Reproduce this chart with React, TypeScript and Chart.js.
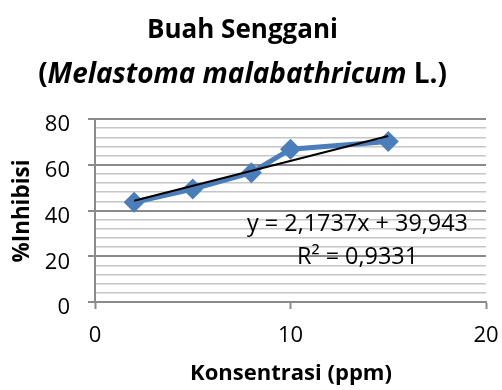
import React, { useEffect, useRef } from "react";
import { Chart, registerables } from "chart.js";

Chart.register(...registerables);

// ---- data ----
const concentrations = [2, 5, 8, 10, 15];
const inhibition = [43.6, 49.4, 56.5, 66.8, 70.2];
const trendSlope = 2.1737;
const trendIntercept = 39.943;
const trendRange = [2, 15];
const xTickValues = [0, 10, 20];
const yMajorStep = 20;
const yMinorStep = 4;
const titleLine1 = "Buah Senggani";
const titleLine2Parts = [
  { text: "(", italic: false },
  { text: "Melastoma malabathricum", italic: true },
  { text: " L.)", italic: false },
];
const yTitle = "%Inhibisi";
const xTitle = "Konsentrasi (ppm)";
const equationText = "y = 2,1737x + 39,943";
const r2Text = "R² = 0,9331";

const FONT = "'Open Sans', sans-serif";
const MAJOR = "#8a8a8a";
const MINOR = "#c6c6c6";

function fitSize(ctx: CanvasRenderingContext2D, parts: { text: string; italic: boolean }[], bold: boolean, target: number) {
  const base = 20;
  let w = 0;
  for (const p of parts) {
    ctx.font = `${p.italic ? "italic " : ""}${bold ? "bold " : ""}${base}px ${FONT}`;
    w += ctx.measureText(p.text).width;
  }
  return (base * target) / w;
}

function drawParts(ctx: CanvasRenderingContext2D, parts: { text: string; italic: boolean }[], bold: boolean, size: number, cx: number, y: number) {
  const widths: number[] = [];
  let total = 0;
  for (const p of parts) {
    ctx.font = `${p.italic ? "italic " : ""}${bold ? "bold " : ""}${size}px ${FONT}`;
    const w = ctx.measureText(p.text).width;
    widths.push(w);
    total += w;
  }
  let x = cx - total / 2;
  ctx.textAlign = "left";
  parts.forEach((p, i) => {
    ctx.font = `${p.italic ? "italic " : ""}${bold ? "bold " : ""}${size}px ${FONT}`;
    ctx.fillText(p.text, x, y);
    x += widths[i];
  });
}

const textPlugin = {
  id: "textPlugin",
  afterDraw(chart: any) {
    const ctx = chart.ctx as CanvasRenderingContext2D;
    ctx.save();
    ctx.fillStyle = "#000";
    ctx.textBaseline = "alphabetic";
    const l1 = [{ text: titleLine1, italic: false }];
    const s1 = fitSize(ctx, l1, true, 191);
    drawParts(ctx, l1, true, s1, 242.5, 38);
    const s2 = fitSize(ctx, titleLine2Parts, true, 409);
    drawParts(ctx, titleLine2Parts, true, s2, 242.5, 83);

    const xt = [{ text: xTitle, italic: false }];
    const sx = fitSize(ctx, xt, true, 202);
    ctx.textBaseline = "middle";
    drawParts(ctx, xt, true, sx, 291, 374);
    const yt = [{ text: yTitle, italic: false }];
    const sy = fitSize(ctx, yt, true, 103);
    ctx.save();
    ctx.translate(23, 211);
    ctx.rotate(-Math.PI / 2);
    drawParts(ctx, yt, true, sy, 0, 0);
    ctx.restore();

    ctx.textBaseline = "alphabetic";
    const eq = [{ text: equationText, italic: false }];
    const se = fitSize(ctx, eq, false, 221);
    drawParts(ctx, eq, false, se, 357.5, 231);
    drawParts(ctx, [{ text: r2Text, italic: false }], false, se, 357.5, 264);
    ctx.restore();
  },
};

export default function App() {
  const ref = useRef<HTMLCanvasElement>(null);
  useEffect(() => {
    if (!ref.current) return;
    const seriesData = concentrations.map((x, i) => ({ x, y: inhibition[i] }));
    const trendData = trendRange.map((x) => ({ x, y: trendSlope * x + trendIntercept }));
    const chart = new Chart(ref.current, {
      type: "line",
      data: {
        datasets: [
          {
            label: "Trend",
            data: trendData,
            borderColor: "#000",
            borderWidth: 2,
            pointRadius: 0,
            order: 0,
          },
          {
            label: "Inhibisi",
            data: seriesData,
            borderColor: "#4A7EBB",
            backgroundColor: "#4A7EBB",
            borderWidth: 5,
            pointStyle: "rectRot",
            pointRadius: 10.5,
            pointBorderWidth: 0,
            order: 1,
          },
        ],
      },
      options: {
        responsive: false,
        animation: false,
        events: [],
        layout: { padding: { top: 119, right: 16, left: 0, bottom: 0 } },
        plugins: {
          legend: { display: false },
          tooltip: { enabled: false },
          title: { display: false },
        },
        scales: {
          x: {
            type: "linear",
            min: 0,
            max: 20,
            afterFit: (s: any) => {
              s.height = 88;
              s.paddingLeft = 0;
              s.paddingRight = 0;
            },
            afterBuildTicks: (s: any) => {
              s.ticks = xTickValues.map((v) => ({ value: v }));
            },
            ticks: {
              font: { family: FONT, size: 22 },
              color: "#000",
              padding: 14,
              maxRotation: 0,
              autoSkip: false,
            },
            grid: {
              drawOnChartArea: false,
              drawTicks: true,
              tickLength: 7,
              tickColor: MAJOR,
              tickWidth: 2,
            },
            border: { display: true, color: MAJOR, width: 2 },
          },
          y: {
            type: "linear",
            min: 0,
            max: 80,
            afterFit: (s: any) => {
              s.width = 95;
              s.paddingTop = 0;
              s.paddingBottom = 0;
            },
            ticks: {
              stepSize: yMinorStep,
              autoSkip: false,
              font: { family: FONT, size: 22 },
              color: "#000",
              padding: 18,
              labelOffset: 6,
              callback: (v: any) => (Number(v) % yMajorStep === 0 ? String(v) : ""),
            },
            grid: {
              color: (c: any) =>
                c.tick && c.tick.value % yMajorStep === 0 ? MAJOR : MINOR,
              lineWidth: (c: any) =>
                c.tick && c.tick.value % yMajorStep === 0 ? 2 : 1.5,
              tickColor: (c: any) =>
                c.tick && c.tick.value % yMajorStep === 0 ? MAJOR : "rgba(0,0,0,0)",
              tickLength: 7,
              drawTicks: true,
            },
            border: { display: true, color: MAJOR, width: 2 },
          },
        },
      },
      plugins: [textPlugin],
    });
    return () => chart.destroy();
  }, []);
  return (
    <div style={{ position: "absolute", left: 0, top: 0, width: 502, height: 390, background: "#fff" }}>
      <canvas ref={ref} width={502} height={390} style={{ display: "block" }} />
    </div>
  );
}
